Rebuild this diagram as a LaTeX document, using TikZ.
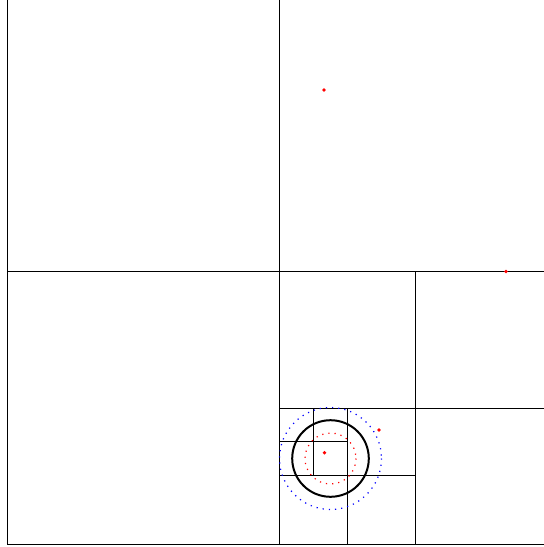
\documentclass[tikz,border=0pt]{standalone}
\begin{document}
\begin{tikzpicture}[x=1pt,y=-1pt,
  cell/.style={draw=black,line width=1pt},
  pt/.style={circle,fill=red,inner sep=0pt,minimum size=3.8pt},
  bigcirc/.style={draw=black,line width=2pt},
  outerring/.style={draw=blue,line width=1.2pt,dash pattern=on 1.2pt off 5pt},
  innerring/.style={draw=red,line width=1.2pt,dash pattern=on 1.2pt off 5pt}]
\useasboundingbox (0,0) rectangle (544,547);
% quadtree cells
\draw[cell] (7,-2) rectangle (551,544);
\draw[cell] (279,-2) -- (279,544);
\draw[cell] (7,271.5) -- (551,271.5);
\draw[cell] (415,271.5) -- (415,544);
\draw[cell] (279,408) -- (551,408);
\draw[cell] (347,408) -- (347,544);
\draw[cell] (279,475.5) -- (415,475.5);
\draw[cell] (313,408) -- (313,475.5);
\draw[cell] (279,441.5) -- (347,441.5);
% circles
\draw[outerring] (330.5,458.5) circle (51);
\draw[innerring] (330.5,458.5) circle (25.5);
\draw[bigcirc] (330.5,458.5) circle (38.3);
% points
\node[pt] (p1) at (324,90) {};
\node[pt] (p2) at (506,271.5) {};
\node[pt] (p3) at (379,430) {};
\node[pt] (p4) at (324.5,452.7) {};
\end{tikzpicture}
\end{document}
